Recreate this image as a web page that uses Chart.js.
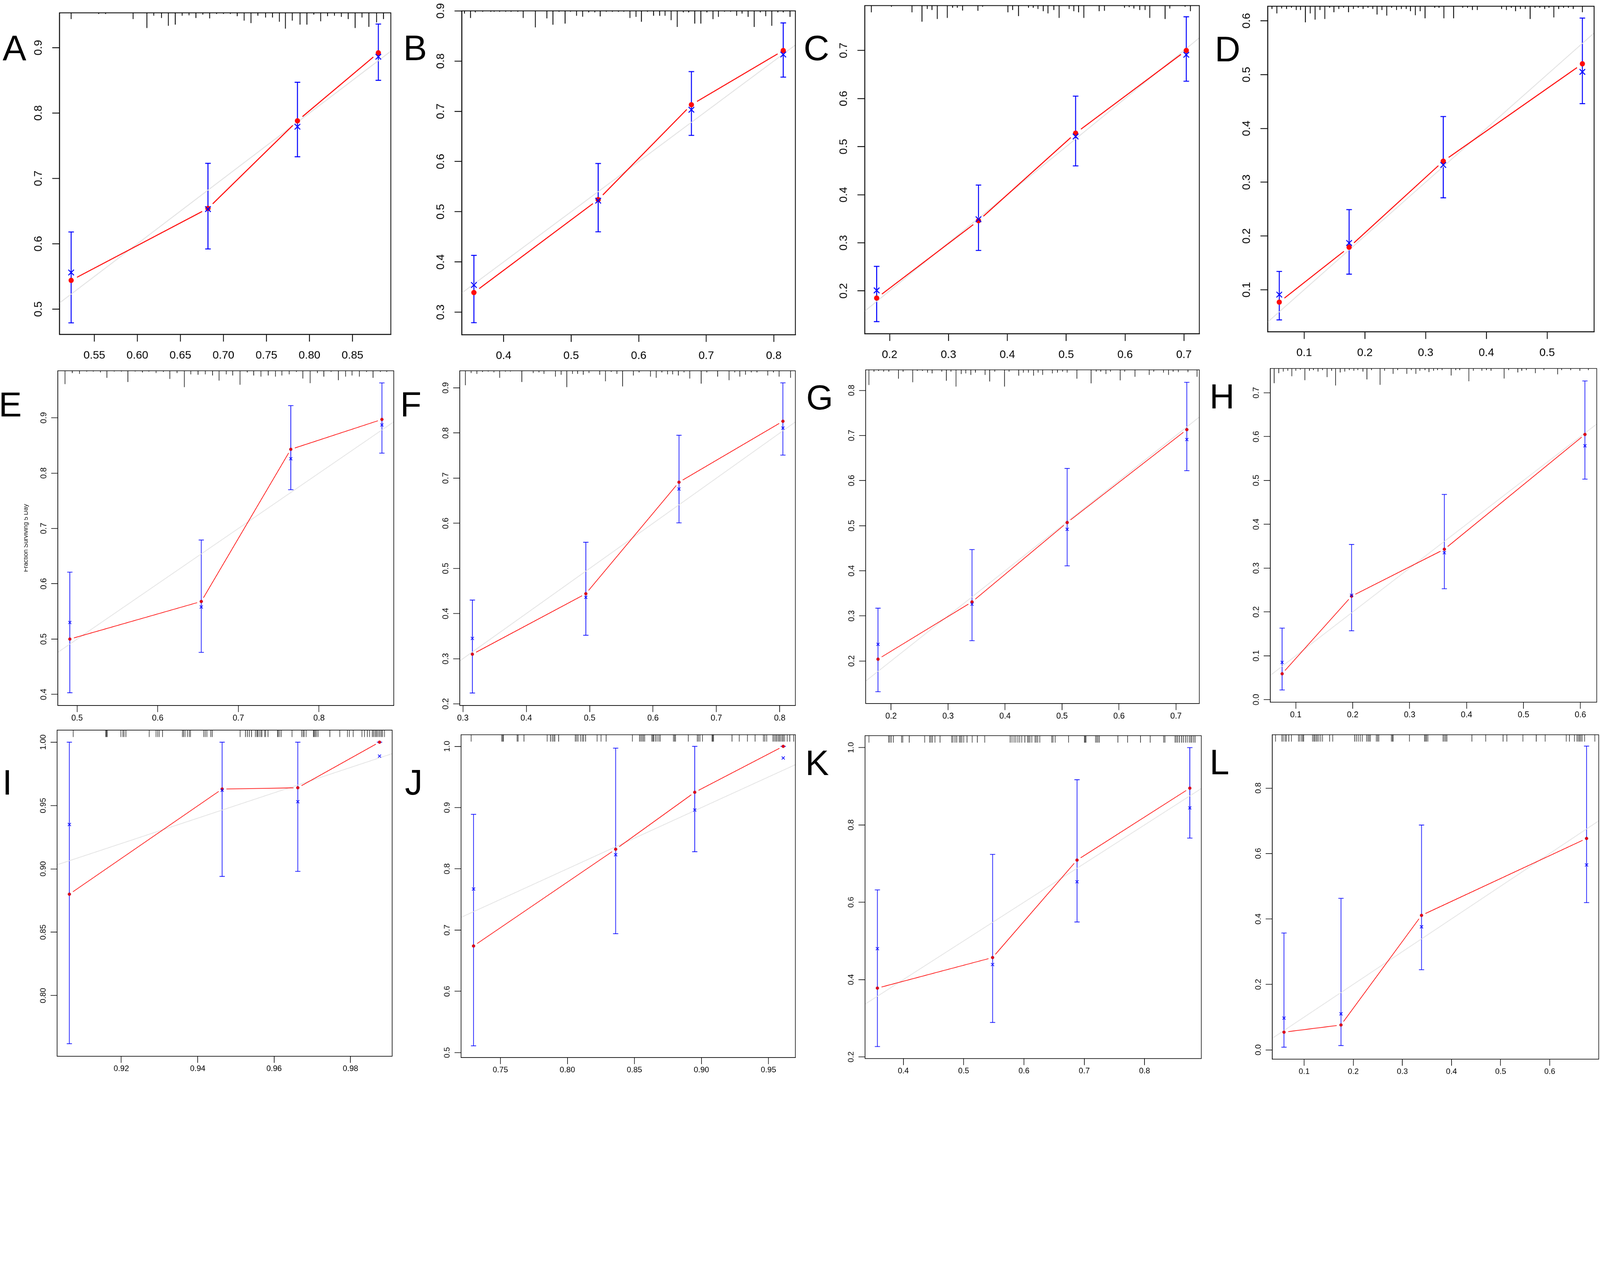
<!DOCTYPE html>
<html>
<head>
<meta charset="utf-8">
<script src="https://cdn.jsdelivr.net/npm/chart.js@4.4.1/dist/chart.umd.min.js"></script>
<style>
  html, body { margin: 0; padding: 0; background: #fff; overflow: hidden; }
  #stage { position: absolute; left: 0; top: 0; width: 4872px; height: 3274px; transform-origin: 0 0; background: #fff; }
  #stage canvas { position: absolute; }
  .tag { position: absolute; font-family: "Liberation Sans", Arial, sans-serif; line-height: 1; color: #000; white-space: nowrap; }
  .ytitle-clip { position: absolute; overflow: hidden; }
  .ytitle { position: absolute; font-family: "Liberation Sans", Arial, sans-serif; font-size: 19px; line-height: 1; color: #111; white-space: nowrap;
            transform: translate(-50%, -50%) rotate(-90deg); }
</style>
</head>
<body>
<div id="stage"></div>
<script>
// ---- data (A..L) ----
const panelLetters = ["A", "B", "C", "D", "E", "F", "G", "H", "I", "J", "K", "L"];

// predicted probability (x) of each group
const predicted = [
  [0.523, 0.682, 0.786, 0.880],
  [0.356, 0.540, 0.678, 0.814],
  [0.178, 0.351, 0.516, 0.704],
  [0.059, 0.174, 0.329, 0.558],
  [0.491, 0.654, 0.765, 0.878],
  [0.315, 0.494, 0.641, 0.805],
  [0.177, 0.342, 0.509, 0.719],
  [0.076, 0.198, 0.361, 0.608],
  [0.9064, 0.9464, 0.9662, 0.9876],
  [0.730, 0.836, 0.895, 0.961],
  [0.357, 0.548, 0.688, 0.875],
  [0.059, 0.175, 0.339, 0.675]
];
// observed (apparent) - red dots
const apparent = [
  [0.544, 0.654, 0.788, 0.892],
  [0.339, 0.524, 0.713, 0.821],
  [0.185, 0.346, 0.528, 0.700],
  [0.077, 0.179, 0.339, 0.520],
  [0.500, 0.568, 0.843, 0.897],
  [0.310, 0.444, 0.691, 0.826],
  [0.204, 0.331, 0.507, 0.713],
  [0.059, 0.236, 0.343, 0.605],
  [0.880, 0.963, 0.964, 1.000],
  [0.674, 0.832, 0.925, 1.000],
  [0.378, 0.457, 0.709, 0.895],
  [0.054, 0.076, 0.411, 0.646]
];
// bias corrected - blue x
const corrected = [
  [0.556, 0.653, 0.779, 0.886],
  [0.354, 0.522, 0.703, 0.813],
  [0.201, 0.349, 0.521, 0.691],
  [0.091, 0.187, 0.332, 0.505],
  [0.530, 0.558, 0.826, 0.887],
  [0.345, 0.436, 0.676, 0.811],
  [0.237, 0.326, 0.492, 0.691],
  [0.085, 0.238, 0.335, 0.579],
  [0.935, 0.962, 0.953, 0.989],
  [0.767, 0.823, 0.896, 0.981],
  [0.480, 0.439, 0.653, 0.844],
  [0.097, 0.110, 0.376, 0.565]
];
const lower = [
  [0.479, 0.592, 0.733, 0.850],
  [0.279, 0.460, 0.652, 0.768],
  [0.136, 0.284, 0.460, 0.636],
  [0.044, 0.129, 0.271, 0.446],
  [0.403, 0.476, 0.770, 0.836],
  [0.224, 0.352, 0.601, 0.751],
  [0.132, 0.245, 0.411, 0.622],
  [0.022, 0.157, 0.253, 0.503],
  [0.762, 0.894, 0.898, 1.000],
  [0.511, 0.694, 0.828, 1.000],
  [0.227, 0.289, 0.549, 0.766],
  [0.008, 0.013, 0.245, 0.450]
];
const upper = [
  [0.618, 0.723, 0.847, 0.936],
  [0.413, 0.596, 0.779, 0.876],
  [0.251, 0.420, 0.605, 0.770],
  [0.134, 0.249, 0.422, 0.605],
  [0.621, 0.679, 0.922, 0.963],
  [0.430, 0.558, 0.795, 0.911],
  [0.317, 0.447, 0.627, 0.818],
  [0.163, 0.354, 0.468, 0.727],
  [1.000, 1.000, 1.000, 1.000],
  [0.889, 0.997, 1.000, 1.000],
  [0.632, 0.724, 0.917, 1.000],
  [0.357, 0.463, 0.687, 0.928]
];

const xLimits = [
  [0.5094, 0.8945], [0.338, 0.832], [0.1577, 0.7262], [0.0399, 0.5773],
  [0.4761, 0.8927], [0.2951, 0.8247], [0.1554, 0.741], [0.0552, 0.6287],
  [0.9032, 0.9909], [0.7207, 0.9701], [0.3365, 0.8941], [0.0351, 0.6997]
];
const yLimits = [
  [0.4614, 0.9532], [0.2551, 0.900], [0.1109, 0.7933], [0.022, 0.627],
  [0.380, 0.9849], [0.1964, 0.9378], [0.1057, 0.8456], [-0.0059, 0.7554],
  [0.7521, 1.0095], [0.4918, 1.019], [0.1959, 1.0307], [-0.0286, 0.963]
];
const xTicks = [
  [0.55, 0.60, 0.65, 0.70, 0.75, 0.80, 0.85], [0.4, 0.5, 0.6, 0.7, 0.8], [0.2, 0.3, 0.4, 0.5, 0.6, 0.7], [0.1, 0.2, 0.3, 0.4, 0.5],
  [0.5, 0.6, 0.7, 0.8], [0.3, 0.4, 0.5, 0.6, 0.7, 0.8], [0.2, 0.3, 0.4, 0.5, 0.6, 0.7], [0.1, 0.2, 0.3, 0.4, 0.5, 0.6],
  [0.92, 0.94, 0.96, 0.98], [0.75, 0.80, 0.85, 0.90, 0.95], [0.4, 0.5, 0.6, 0.7, 0.8], [0.1, 0.2, 0.3, 0.4, 0.5, 0.6]
];
const yTicks = [
  [0.5, 0.6, 0.7, 0.8, 0.9], [0.3, 0.4, 0.5, 0.6, 0.7, 0.8, 0.9], [0.2, 0.3, 0.4, 0.5, 0.6, 0.7], [0.1, 0.2, 0.3, 0.4, 0.5, 0.6],
  [0.4, 0.5, 0.6, 0.7, 0.8, 0.9], [0.2, 0.3, 0.4, 0.5, 0.6, 0.7, 0.8, 0.9], [0.2, 0.3, 0.4, 0.5, 0.6, 0.7, 0.8], [0.0, 0.1, 0.2, 0.3, 0.4, 0.5, 0.6, 0.7],
  [0.80, 0.85, 0.90, 0.95, 1.00], [0.5, 0.6, 0.7, 0.8, 0.9, 1.0], [0.2, 0.4, 0.6, 0.8, 1.0], [0.0, 0.2, 0.4, 0.6, 0.8]
];

// distribution of predictions shown along the top (A-H: binned, with relative frequency)
const rugValues = [
  [0.523,0.555,0.563,0.595,0.611,0.619,0.628,0.636,0.644,0.652,0.660,0.668,0.676,0.684,0.692,0.700,0.708,0.716,0.724,0.732,0.740,0.749,0.757,0.765,0.772,0.780,0.789,0.797,0.805,0.813,0.821,0.829,0.837,0.845,0.853,0.861,0.869,0.878,0.886],
  [0.342,0.351,0.358,0.369,0.381,0.386,0.394,0.403,0.411,0.421,0.429,0.447,0.464,0.473,0.482,0.491,0.499,0.508,0.517,0.526,0.535,0.543,0.552,0.561,0.570,0.578,0.587,0.596,0.604,0.613,0.622,0.631,0.639,0.648,0.657,0.666,0.674,0.683,0.692,0.701,0.710,0.718,0.727,0.736,0.745,0.753,0.762,0.771,0.780,0.788,0.797,0.806,0.814,0.824],
  [0.169,0.203,0.238,0.255,0.264,0.272,0.281,0.298,0.307,0.315,0.324,0.350,0.358,0.401,0.409,0.419,0.436,0.444,0.452,0.461,0.469,0.479,0.488,0.505,0.513,0.521,0.530,0.556,0.565,0.599,0.607,0.615,0.625,0.634,0.642,0.668,0.676,0.702,0.711],
  [0.047,0.055,0.063,0.071,0.079,0.087,0.094,0.102,0.110,0.118,0.126,0.134,0.142,0.149,0.157,0.165,0.173,0.181,0.189,0.197,0.205,0.213,0.220,0.228,0.236,0.244,0.252,0.260,0.268,0.275,0.283,0.291,0.299,0.315,0.322,0.330,0.346,0.361,0.369,0.377,0.385,0.425,0.433,0.441,0.448,0.456,0.464,0.472,0.480,0.488,0.496,0.503,0.511,0.519,0.527,0.535,0.543,0.558],
  [0.485,0.494,0.503,0.512,0.520,0.529,0.537,0.546,0.555,0.563,0.572,0.581,0.589,0.598,0.607,0.615,0.624,0.633,0.641,0.650,0.659,0.668,0.676,0.685,0.693,0.702,0.711,0.719,0.728,0.737,0.746,0.754,0.763,0.772,0.780,0.789,0.798,0.806,0.815,0.824,0.833,0.841,0.850,0.859,0.867,0.876,0.884],
  [0.304,0.313,0.322,0.331,0.340,0.349,0.358,0.367,0.375,0.393,0.411,0.420,0.428,0.446,0.455,0.464,0.473,0.481,0.490,0.499,0.516,0.525,0.534,0.543,0.552,0.569,0.578,0.596,0.605,0.614,0.623,0.631,0.640,0.649,0.658,0.676,0.685,0.702,0.720,0.729,0.737,0.746,0.755,0.764,0.781,0.790,0.799,0.817],
  [0.161,0.170,0.178,0.187,0.196,0.213,0.221,0.238,0.246,0.255,0.264,0.272,0.289,0.297,0.305,0.314,0.323,0.331,0.340,0.348,0.365,0.373,0.382,0.399,0.407,0.424,0.432,0.441,0.450,0.458,0.466,0.483,0.492,0.501,0.509,0.526,0.551,0.560,0.568,0.577,0.585,0.602,0.610,0.628,0.653,0.661,0.678,0.687,0.695,0.704,0.721,0.737],
  [0.062,0.070,0.078,0.086,0.093,0.100,0.108,0.116,0.124,0.131,0.139,0.147,0.155,0.163,0.170,0.178,0.186,0.194,0.202,0.209,0.218,0.225,0.233,0.248,0.256,0.271,0.279,0.295,0.303,0.311,0.318,0.327,0.334,0.342,0.349,0.357,0.373,0.381,0.388,0.404,0.412,0.427,0.435,0.443,0.466,0.474,0.490,0.497,0.505,0.521,0.536,0.560,0.567,0.583,0.599,0.614],
  [0.9074,0.9159,0.9161,0.9163,0.9199,0.9204,0.9207,0.9212,0.9273,0.9291,0.9295,0.9299,0.9308,0.9360,0.9363,0.9367,0.9373,0.9378,0.9381,0.9416,0.9420,0.9424,0.9434,0.9438,0.9511,0.9525,0.9530,0.9535,0.9541,0.9551,0.9555,0.9557,0.9561,0.9565,0.9568,0.9575,0.9578,0.9584,0.9609,0.9611,0.9615,0.9619,0.9647,0.9672,0.9676,0.9679,0.9684,0.9703,0.9705,0.9708,0.9711,0.9715,0.9746,0.9772,0.9792,0.9797,0.9807,0.9830,0.9837,0.9844,0.9850,0.9857,0.9860,0.9864,0.9867,0.9870,0.9874,0.9877,0.9881,0.9884,0.9889],
  [0.7282,0.7510,0.7517,0.7523,0.7625,0.7632,0.7676,0.7849,0.7874,0.7887,0.7897,0.7906,0.7935,0.8059,0.8069,0.8079,0.8098,0.8111,0.8121,0.8136,0.8222,0.8251,0.8289,0.8485,0.8538,0.8548,0.8557,0.8567,0.8577,0.8630,0.8638,0.8644,0.8657,0.8669,0.8682,0.8692,0.8791,0.8799,0.8807,0.8902,0.8969,0.8979,0.8989,0.9008,0.9079,0.9084,0.9090,0.9228,0.9282,0.9343,0.9400,0.9462,0.9473,0.9487,0.9534,0.9544,0.9554,0.9563,0.9573,0.9582,0.9592,0.9602,0.9611,0.9621,0.9640,0.9659,0.9688],
  [0.3429,0.3757,0.3778,0.3800,0.3834,0.3970,0.3991,0.4098,0.4354,0.4439,0.4460,0.4481,0.4524,0.4609,0.4801,0.4822,0.4856,0.4886,0.4929,0.4950,0.4971,0.5001,0.5056,0.5142,0.5227,0.5350,0.5772,0.5802,0.5836,0.5866,0.5900,0.5930,0.5964,0.6015,0.6058,0.6079,0.6100,0.6130,0.6185,0.6207,0.6228,0.6262,0.6462,0.6483,0.6518,0.6739,0.7003,0.7016,0.7029,0.7186,0.7208,0.7229,0.7250,0.7557,0.7719,0.7932,0.8094,0.8315,0.8337,0.8507,0.8528,0.8550,0.8579,0.8613,0.8643,0.8677,0.8707,0.8741,0.8763,0.8784,0.8814,0.8839],
  [0.0418,0.0548,0.0574,0.0611,0.0637,0.0688,0.0740,0.0886,0.0912,0.0948,0.0974,0.0990,0.1171,0.1197,0.1218,0.1244,0.1270,0.1301,0.1337,0.1374,0.1519,0.1582,0.2028,0.2064,0.2101,0.2142,0.2184,0.2272,0.2298,0.2324,0.2350,0.2469,0.2495,0.2521,0.2776,0.2796,0.2812,0.3144,0.3451,0.3471,0.3492,0.3518,0.3830,0.3856,0.3882,0.3908,0.4416,0.4697,0.5050,0.5128,0.5455,0.5725,0.5907,0.6337,0.6400,0.6504,0.6556,0.6582,0.6607,0.6633,0.6659,0.6711,0.6919]
];
const rugFreq = [
  [28,5,5,28,68,13,23,58,53,13,11,23,8,25,5,5,5,15,35,46,13,21,21,40,71,35,53,53,8,38,15,13,18,28,68,21,63,43,28],
  [12,32,7,4,4,4,4,4,4,4,32,74,34,62,4,57,4,22,26,7,7,25,4,4,4,4,32,27,49,4,22,22,22,42,72,7,7,57,57,7,37,27,4,4,22,12,27,72,7,24,67,7,7,27],
  [30,5,30,72,15,20,60,55,10,10,22,23,5,30,20,47,10,10,15,25,35,20,55,15,25,30,55,25,23,10,7,13,20,20,55,60,13,5,25],
  [12,32,10,12,7,17,17,72,32,60,17,57,7,27,12,7,27,12,7,12,7,12,37,17,42,7,17,12,12,22,40,22,54,7,7,54,54,7,7,17,17,12,17,7,22,12,12,57,7,7,12,7,50,12,7,7,12,27],
  [57,10,13,3,3,7,30,3,3,48,3,7,3,10,5,35,10,70,15,17,15,20,42,15,20,60,7,20,25,20,25,20,15,5,33,53,10,25,5,40,25,20,25,5,30,5,5],
  [62,10,13,5,3,7,30,3,3,48,10,7,13,25,17,70,13,13,17,10,17,45,5,13,67,20,7,25,30,7,15,15,20,7,33,55,7,25,40,7,25,17,7,7,20,7,25,30],
  [65,8,5,8,8,38,8,53,5,5,12,15,8,47,8,72,18,15,22,12,22,50,8,72,8,25,12,12,25,12,22,15,12,8,12,38,58,8,8,18,8,45,8,30,22,8,12,22,8,10,10,30],
  [63,20,13,10,33,10,5,50,10,7,13,7,37,10,73,17,13,7,10,7,13,47,7,70,10,23,7,23,7,23,10,7,15,10,7,7,30,7,7,55,10,10,7,10,43,7,17,10,7,20,7,25,7,7,10,7],
  null, null, null, null
];

// ---- layout & style (in 4872 x 3274 reference px) ----
const PAGE_W = 4872, PAGE_H = 3274;
// plot frame of each panel: left, top, right, bottom
const frames = [
  [181, 39, 1190, 1018], [1406, 33, 2422, 1019], [2633, 17, 3652, 1016], [3860, 19, 4854, 1010],
  [176, 1129, 1199, 2148], [1400, 1129, 2422, 2148], [2636, 1126, 3652, 2142], [3868, 1122, 4862, 2138],
  [174, 2223, 1194, 3216], [1404, 2237, 2422, 3220], [2634, 2240, 3658, 3223], [3874, 2237, 4868, 3225]
];
// panel letter: left, top, font size
const letterPos = [
  [8, 92, 108], [1228, 92, 108], [2447, 92, 108], [3699, 96, 108],
  [-4, 1179, 105], [1219, 1179, 105], [2455, 1158, 105], [3683, 1154, 105],
  [7, 2328, 108], [1233, 2328, 108], [2452, 2269, 108], [3683, 2266, 108]
];
const rowStyles = [
  { font: 34, tick: 22, dist: 63, xPad: 22, axisW: 130, axisH: 90, lw: 2.5, red: 3, gap: 20, dot: 8, cross: 12, crossW: 3, bar: 3, cap: 8.5, diag: 2.5, rug: 2.5, rugUnit: 0.68, dotColor: '#ff0a0a', dotBorder: '#ff0a0a' },
  { font: 25, tick: 20, dist: 41.5, xPad: 4, axisW: 100, axisH: 60, lw: 1.8, red: 2, gap: 13, dot: 4.5, cross: 6.5, crossW: 2, bar: 2, cap: 8, diag: 2, rug: 1.8, rugUnit: 0.71, dotColor: '#e0001b', dotBorder: '#b00018' },
  { font: 24, tick: 20, dist: 41.5, xPad: 4, axisW: 100, axisH: 60, lw: 1.8, red: 2, gap: 13, dot: 4.5, cross: 6.5, crossW: 2, bar: 2, cap: 8, diag: 2, rug: 1.5, rugLen: 21, dotColor: '#e0001b', dotBorder: '#b00018' }
];
const FONT = "'Liberation Sans', Arial, Helvetica, sans-serif";
const RED = '#ff0000';
const BLUE = '#0000ff';
const IDEAL = '#e0e0e0';

// fit the reference-sized stage into whatever viewport we get
const stage = document.getElementById('stage');
const fit = Math.min(window.innerWidth / PAGE_W, window.innerHeight / PAGE_H);
stage.style.transform = `scale(${fit})`;

const measureCtx = document.createElement('canvas').getContext('2d');

function decimals(ticks) {
  return Math.max(...ticks.map(t => (String(t).split('.')[1] || '').length));
}

function points(xs, ys) {
  return xs.map((x, k) => ({ x: x, y: ys[k] }));
}

// R draws type = "b": the connecting line stops short of each point
function segLen(c) {
  return Math.hypot(c.p1.x - c.p0.x, c.p1.y - c.p0.y);
}

function buildPanel(i) {
  const row = Math.floor(i / 4);
  const st = rowStyles[row];
  const [fl, ft, fr, fb] = frames[i];
  const padT = 50, padR = 40;
  const w = Math.round(fr - fl + st.axisW + padR);
  const h = Math.round(fb - ft + padT + st.axisH);

  const cv = document.createElement('canvas');
  cv.width = w; cv.height = h;
  cv.style.left = (fl - st.axisW) + 'px';
  cv.style.top = (ft - padT) + 'px';
  cv.style.width = w + 'px';
  cv.style.height = h + 'px';
  stage.appendChild(cv);

  const xd = decimals(xTicks[i]);
  const yd = decimals(yTicks[i]);
  measureCtx.font = `${st.font}px ${FONT}`;
  const widest = Math.max(...yTicks[i].map(v => measureCtx.measureText(v.toFixed(yd)).width));
  const yPad = st.dist - st.tick - widest / 2;

  const tickFont = { family: FONT, size: st.font };
  const gridOpts = { drawOnChartArea: false, drawTicks: true, tickLength: st.tick, tickWidth: st.lw, tickColor: '#000', lineWidth: st.lw, color: '#000' };

  new Chart(cv, {
    type: 'scatter',
    data: {
      datasets: [
        {
          data: points(predicted[i], corrected[i]),
          pointStyle: 'crossRot', pointRadius: st.cross, pointBorderWidth: st.crossW,
          pointBorderColor: BLUE, pointBackgroundColor: BLUE, showLine: false
        },
        {
          data: points(predicted[i], apparent[i]),
          showLine: true, borderColor: RED, borderWidth: st.red,
          pointStyle: 'circle', pointRadius: st.dot, pointBackgroundColor: st.dotColor,
          pointBorderColor: st.dotBorder, pointBorderWidth: row === 0 ? 0 : 1,
          segment: {
            borderDash: c => { const L = segLen(c); return L > 2 * st.gap ? [L - 2 * st.gap, 2 * st.gap] : [0, L + 1]; },
            borderDashOffset: c => segLen(c) - st.gap
          }
        },
        {
          data: [{ x: xLimits[i][0], y: xLimits[i][0] }, { x: xLimits[i][1], y: xLimits[i][1] }],
          showLine: true, borderColor: IDEAL, borderWidth: st.diag, pointRadius: 0
        }
      ]
    },
    options: {
      responsive: false,
      animation: false,
      devicePixelRatio: 1,
      events: [],
      layout: { padding: { top: padT, right: padR, left: 0, bottom: 0 } },
      plugins: { legend: { display: false }, tooltip: { enabled: false } },
      scales: {
        x: {
          type: 'linear', position: 'bottom', bounds: 'data',
          min: xLimits[i][0], max: xLimits[i][1],
          afterBuildTicks: s => { s.ticks = xTicks[i].map(v => ({ value: v })); },
          afterFit: s => { s.height = st.axisH; },
          grid: gridOpts,
          border: { display: true, color: '#000', width: st.lw },
          ticks: { color: '#000', font: tickFont, padding: st.xPad, autoSkip: false, minRotation: 0, maxRotation: 0,
                   callback: v => v.toFixed(xd) }
        },
        y: {
          type: 'linear', position: 'left', bounds: 'data',
          min: yLimits[i][0], max: yLimits[i][1],
          afterBuildTicks: s => { s.ticks = yTicks[i].map(v => ({ value: v })); },
          afterFit: s => { s.width = st.axisW; },
          grid: gridOpts,
          border: { display: true, color: '#000', width: st.lw },
          ticks: { color: '#000', font: tickFont, padding: yPad, autoSkip: false, minRotation: 90, maxRotation: 90,
                   crossAlign: 'center', callback: v => v.toFixed(yd) }
        }
      }
    },
    plugins: [{
      id: 'calib' + i,
      beforeDatasetsDraw(chart) {
        // error bars of the bias-corrected estimate
        const { ctx, scales: { x, y } } = chart;
        ctx.save();
        ctx.strokeStyle = BLUE;
        ctx.lineWidth = st.bar;
        predicted[i].forEach((p, k) => {
          const px = x.getPixelForValue(p);
          const lo = y.getPixelForValue(lower[i][k]);
          const hi = y.getPixelForValue(upper[i][k]);
          ctx.beginPath();
          ctx.moveTo(px, lo); ctx.lineTo(px, hi);
          ctx.moveTo(px - st.cap, lo); ctx.lineTo(px + st.cap, lo);
          ctx.moveTo(px - st.cap, hi); ctx.lineTo(px + st.cap, hi);
          ctx.stroke();
        });
        ctx.restore();
      },
      afterDatasetsDraw(chart) {
        // rug of predictions along the top frame
        const { ctx, chartArea, scales: { x } } = chart;
        ctx.save();
        ctx.strokeStyle = '#000';
        ctx.lineWidth = st.rug;
        ctx.beginPath();
        rugValues[i].forEach((v, k) => {
          const px = x.getPixelForValue(v);
          const len = rugFreq[i] ? rugFreq[i][k] * st.rugUnit : st.rugLen;
          ctx.moveTo(px, chartArea.top);
          ctx.lineTo(px, chartArea.top + len);
        });
        ctx.stroke();
        ctx.restore();
      },
      afterDraw(chart) {
        const { ctx, chartArea: a } = chart;
        ctx.save();
        ctx.strokeStyle = '#000';
        ctx.lineWidth = st.lw;
        ctx.strokeRect(a.left, a.top, a.right - a.left, a.bottom - a.top);
        ctx.restore();
      }
    }]
  });
}

panelLetters.forEach((_, i) => buildPanel(i));

// panel letters
panelLetters.forEach((letter, i) => {
  const [l, t, s] = letterPos[i];
  const d = document.createElement('div');
  d.className = 'tag';
  d.textContent = letter;
  d.style.left = l + 'px';
  d.style.top = t + 'px';
  d.style.fontSize = s + 'px';
  stage.appendChild(d);
});

// y-axis title visible in panel E (partly cut off in the original)
const clip = document.createElement('div');
clip.className = 'ytitle-clip';
clip.style.left = '73px'; clip.style.top = '1500px';
clip.style.width = '30px'; clip.style.height = '280px';
const title = document.createElement('div');
title.className = 'ytitle';
title.textContent = 'Fraction Surviving 5 Day';
title.style.left = '5px'; title.style.top = '138px';
clip.appendChild(title);
stage.appendChild(clip);
</script>
</body>
</html>
